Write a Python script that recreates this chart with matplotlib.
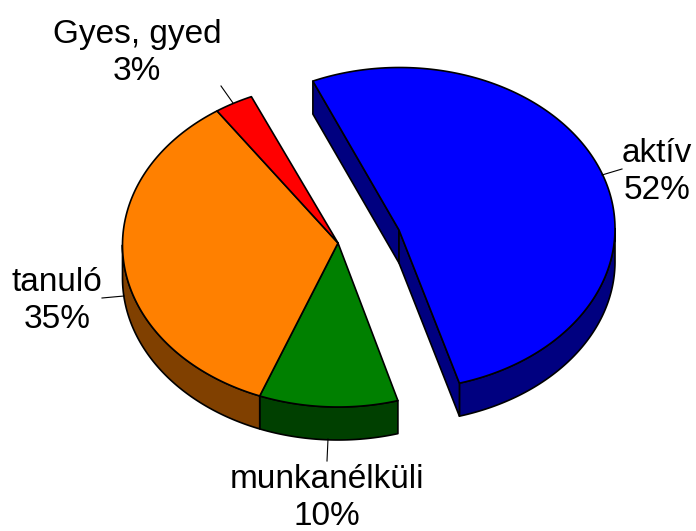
import numpy as np
import matplotlib
matplotlib.use("Agg")
import matplotlib.pyplot as plt
from matplotlib.patches import Polygon

labels = ["aktív", "munkanélküli", "tanuló", "Gyes, gyed"]
values = [52.1, 10.4, 34.6, 2.9]
top_colors = ["#0000FF", "#008000", "#FF8000", "#FF0000"]
side_colors = ["#000080", "#004000", "#804000", "#800000"]
exploded = [True, False, False, False]

START = 113.7
RX, DEPTH = 215.5, 33
MAIN_APEX, MAIN_C, MAIN_RY = (338, 243), (338, 245), 162
EXPL_APEX, EXPL_C, EXPL_RY = (399, 230), (399.5, 228.5), 161
LW = 1.2

label_pos = [(657, 172), (327, 498), (57, 301), (137, 53)]
leaders = [((602, 175), (622, 169)), ((327, 461), (328, 439)),
           ((102, 298), (124, 296)), ((221, 86), (233, 103))]

plt.rcParams['font.family'] = ['Liberation Sans', 'DejaVu Sans']
fig = plt.figure(figsize=(6.96, 5.31), dpi=100)
ax = fig.add_axes([0, 0, 1, 1])
ax.set_xlim(0, 696)
ax.set_ylim(531, 0)
ax.axis("off")


def arc(c, ry, a0, a1, dy=0):
    t = np.radians(np.linspace(a0, a1, 200))
    return np.column_stack([c[0] + RX * np.cos(t), c[1] - ry * np.sin(t) + dy])


angles = START - np.concatenate([[0], np.cumsum(values)]) * 3.6

# side walls first
for i, v in enumerate(values):
    a0, a1 = angles[i], angles[i + 1]
    c, ry, apex = (EXPL_C, EXPL_RY, EXPL_APEX) if exploded[i] else (MAIN_C, MAIN_RY, MAIN_APEX)
    kw = dict(fc=side_colors[i], ec="black", lw=LW, joinstyle="round")
    lo, hi = max(a1, -180), min(a0, 0)
    if hi > lo:
        top = arc(c, ry, hi, lo)
        bot = arc(c, ry, lo, hi, DEPTH)
        ax.add_patch(Polygon(np.vstack([top, bot]), closed=True, **kw))
    if exploded[i]:
        for a in (a0, a1):
            e = arc(c, ry, a, a)[0]
            pts = [apex, tuple(e), (e[0], e[1] + DEPTH), (apex[0], apex[1] + DEPTH)]
            ax.add_patch(Polygon(pts, closed=True, **kw))

# top faces
for i, v in enumerate(values):
    c, ry, apex = (EXPL_C, EXPL_RY, EXPL_APEX) if exploded[i] else (MAIN_C, MAIN_RY, MAIN_APEX)
    pts = np.vstack([[apex], arc(c, ry, angles[i], angles[i + 1])])
    ax.add_patch(Polygon(pts, closed=True, fc=top_colors[i], ec="black",
                         lw=LW, joinstyle="round"))

for (p, q) in leaders:
    ax.plot([p[0], q[0]], [p[1], q[1]], color="black", lw=0.8)

for lab, v, (x, y) in zip(labels, values, label_pos):
    ax.text(x, y, f"{lab}\n{round(v)}%", ha="center", va="center", fontsize=24,
            linespacing=1.27, color="black")

fig.savefig("out.png", dpi=100, facecolor="white")
